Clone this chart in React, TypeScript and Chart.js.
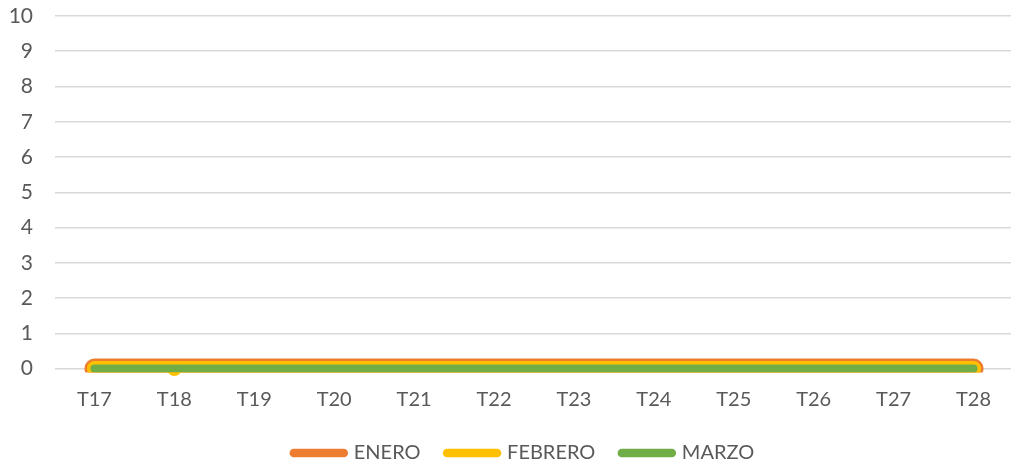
import React, { useEffect, useRef } from "react";
import { Chart, registerables } from "chart.js";

Chart.register(...registerables);

const categories = ["T17", "T18", "T19", "T20", "T21", "T22", "T23", "T24", "T25", "T26", "T27", "T28"];
const enero = [0, 0, 0, 0, 0, 0, 0, 0, 0, 0, 0, 0];
const febrero = [0, 0, 0, 0, 0, 0, 0, 0, 0, 0, 0, 0];
const febreroMarker = [null, 0, null, null, null, null, null, null, null, null, null, null];
const marzo = [0, 0, 0, 0, 0, 0, 0, 0, 0, 0, 0, 0];
const yTicks = [0, 1, 2, 3, 4, 5, 6, 7, 8, 9, 10];

const seriesNames = ["ENERO", "FEBRERO", "MARZO"];
const seriesColors = ["#ED7D31", "#FFC000", "#70AD47"];

const FONT = "Lato, 'Open Sans', sans-serif";
const TEXT = "#595959";
const LEGEND_SHIFT = 13.5;

export default function App() {
  const ref = useRef<HTMLCanvasElement | null>(null);

  useEffect(() => {
    document.body.style.margin = "0";
    const canvas = ref.current;
    if (!canvas) return;
    const clipLine = { left: 60, right: 60, top: 60, bottom: 4 };
    const legendShift = {
      id: "legendShift",
      afterLayout(chart: any) {
        if (chart.legend) {
          chart.legend.left += LEGEND_SHIFT;
          chart.legend.right += LEGEND_SHIFT;
        }
      },
    };
    const chart = new Chart(canvas, {
      type: "line",
      data: {
        labels: categories,
        datasets: [
          {
            label: seriesNames[0],
            data: enero,
            borderColor: seriesColors[0],
            backgroundColor: seriesColors[0],
            borderWidth: 20,
            borderCapStyle: "round",
            borderJoinStyle: "round",
            pointRadius: 0,
            pointHoverRadius: 0,
            clip: clipLine,
            order: 4,
          },
          {
            label: seriesNames[1],
            data: febrero,
            borderColor: seriesColors[1],
            backgroundColor: seriesColors[1],
            borderWidth: 15,
            borderCapStyle: "round",
            borderJoinStyle: "round",
            pointRadius: 0,
            pointHoverRadius: 0,
            clip: clipLine,
            order: 3,
          },
          {
            label: "marker",
            data: febreroMarker as any,
            showLine: false,
            borderColor: seriesColors[1],
            backgroundColor: seriesColors[1],
            borderWidth: 0,
            pointRadius: 7.5,
            pointHoverRadius: 7.5,
            clip: false as any,
            order: 2,
          },
          {
            label: seriesNames[2],
            data: marzo,
            borderColor: seriesColors[2],
            backgroundColor: seriesColors[2],
            borderWidth: 8,
            borderCapStyle: "round",
            borderJoinStyle: "round",
            pointRadius: 0,
            pointHoverRadius: 0,
            clip: clipLine,
            order: 1,
          },
        ],
      },
      options: {
        animation: false,
        responsive: false,
        devicePixelRatio: 1,
        layout: { padding: { left: 0, top: 16, right: 0, bottom: 0 } },
        plugins: {
          tooltip: { enabled: false },
          legend: {
            display: true,
            position: "bottom",
            labels: {
              boxWidth: 50,
              boxHeight: 0,
              padding: 26.5,
              color: TEXT,
              font: { family: FONT, size: 20 },
              generateLabels: () =>
                seriesNames.map((name, i) => ({
                  text: name,
                  fillStyle: "rgba(0,0,0,0)",
                  strokeStyle: seriesColors[i],
                  lineWidth: 8.5,
                  lineCap: "round",
                  lineJoin: "round",
                  fontColor: TEXT,
                  hidden: false,
                  datasetIndex: i,
                })) as any,
            },
          },
        },
        scales: {
          x: {
            type: "category",
            offset: true,
            grid: { display: false, drawTicks: false },
            border: { display: false },
            ticks: {
              color: TEXT,
              font: { family: FONT, size: 20 },
              padding: 19,
              maxRotation: 0,
              autoSkip: false,
            },
            afterFit: (scale: any) => {
              scale.height = 48;
            },
          },
          y: {
            min: 0,
            max: 10,
            afterBuildTicks: (scale: any) => {
              scale.ticks = yTicks.map((v) => ({ value: v }));
            },
            grid: { color: "#D9D9D9", lineWidth: 1.5, drawTicks: false },
            border: { display: false },
            ticks: {
              color: TEXT,
              font: { family: FONT, size: 21 },
              padding: 21.5,
            },
            afterFit: (scale: any) => {
              scale.width = 54.5;
              scale.paddingTop = 0;
              scale.paddingBottom = 0;
            },
          },
        },
      },
      plugins: [legendShift],
    });
    return () => chart.destroy();
  }, []);

  return (
    <div style={{ position: "absolute", left: 0, top: 0, width: 1011, height: 466, overflow: "hidden", background: "#fff" }}>
      <canvas ref={ref} width={1021} height={473} style={{ display: "block", width: 1021, height: 473 }} />
    </div>
  );
}
